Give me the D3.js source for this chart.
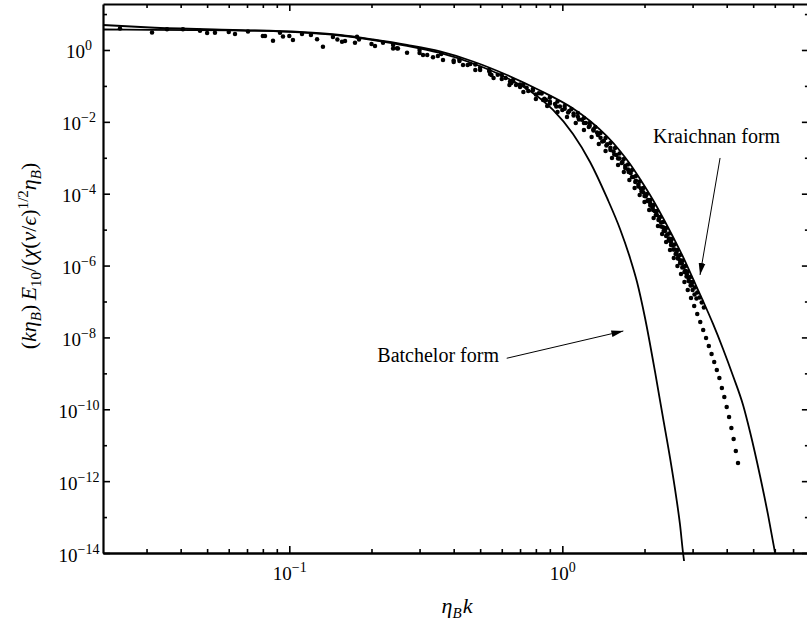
<!DOCTYPE html>
<html><head><meta charset="utf-8">
<script src="https://cdn.jsdelivr.net/npm/d3@7"></script>
<style>
body{margin:0;background:#fff}
svg text{font-family:"Liberation Serif","Times New Roman",serif;fill:#000}
</style>
</head><body>
<svg id="c" width="807" height="624"></svg>
<script>
// ---------- data ----------
const kraichnanK = [0.02078,0.03088,0.06219,0.1094,0.1534,0.2025,0.2699,0.3565,0.4709,0.6272,0.8285,1.0944,1.2635,1.4579,1.6268,1.7701,1.9255,2.1486,2.3381,2.5437,2.7679,3.0115,3.2765,3.5648,3.8785,4.2200,4.5914,4.8706,5.2989,5.6687,6.0142];
const kraichnanE = [4.964,4.229,3.603,3.170,2.615,1.960,1.378,0.9084,0.4786,0.2014,0.07462,0.02355,0.01057,3.915e-3,1.546e-3,6.72e-4,2.57e-4,6.69e-5,2.11e-5,6.25e-6,1.734e-6,4.23e-7,1.034e-7,2.37e-8,4.77e-9,8.46e-10,1.319e-10,2.34e-11,1.394e-12,1.146e-13,1.0e-14];

const batchelorK = [0.02078,0.03088,0.06219,0.1094,0.1534,0.2025,0.2699,0.3565,0.4709,0.6272,0.7615,0.9245,1.0944,1.2635,1.4579,1.6268,1.7701,1.8777,2.0088,2.1860,2.3381,2.4802,2.6089,2.6987,2.7679,2.7914];
const batchelorE = [3.720,3.650,3.534,3.109,2.532,1.898,1.309,0.825,0.4209,0.1663,0.0723,0.02139,4.60e-3,7.64e-4,7.61e-5,1.043e-5,1.627e-6,3.49e-7,3.48e-8,1.093e-9,5.74e-11,4.42e-12,3.87e-13,6.03e-14,1.0e-14,5.99e-15];

// measured spectra (several runs)
const runAK = [0.08,0.16,0.24,0.32,0.40,0.48,0.56,0.64,0.72,0.80,0.88,0.96,1.04,1.12,1.20,1.28,1.36,1.44,1.52,1.60,1.68,1.76,1.84,1.92,2.00,2.08,2.16,2.24,2.32,2.40,2.48,2.56,2.64,2.72,2.80,2.88,2.96,3.04,3.12,3.20,3.28,3.36,3.44,3.52,3.60,3.68,3.76,3.84,3.92,4.00,4.08,4.16,4.24,4.32,4.40];
const runAE = [2.45,1.78,1.10,0.726,0.463,0.278,0.166,0.106,0.0678,0.0433,0.0276,0.0188,0.0137,9.30e-3,5.94e-3,3.79e-3,2.42e-3,1.55e-3,9.87e-4,6.30e-4,4.02e-4,2.41e-4,1.44e-4,9.22e-5,5.89e-5,3.53e-5,2.11e-5,1.26e-5,7.57e-6,4.54e-6,2.72e-6,1.63e-6,9.74e-7,5.83e-7,3.49e-7,2.09e-7,1.25e-7,7.51e-8,4.50e-8,2.69e-8,1.61e-8,9.66e-9,5.79e-9,3.46e-9,2.07e-9,1.24e-9,7.44e-10,3.92e-10,2.20e-10,1.16e-10,6.11e-11,3.02e-11,1.49e-11,6.92e-12,3.21e-12];

const runBK = [0.06,0.12,0.18,0.24,0.30,0.36,0.42,0.48,0.54,0.60,0.66,0.72,0.78,0.84,0.90,0.96,1.02,1.08,1.14,1.20,1.26,1.32,1.38,1.44,1.50,1.56,1.62,1.68,1.74,1.80,1.86,1.92,1.98,2.04,2.10,2.16,2.22,2.28,2.34,2.40,2.46,2.52,2.58,2.64,2.70,2.76,2.82,2.88,2.94,3.00,3.06,3.12,3.18,3.24,3.30];
const runBE = [3.17,2.62,1.96,1.38,1.00,0.774,0.544,0.395,0.278,0.201,0.146,0.106,0.0822,0.0616,0.0477,0.0369,0.0276,0.0228,0.0177,0.0128,9.30e-3,7.20e-3,4.90e-3,3.56e-3,2.58e-3,1.87e-3,1.32e-3,9.26e-4,6.51e-4,4.57e-4,3.11e-4,2.19e-4,1.44e-4,9.83e-5,6.69e-5,4.86e-5,3.31e-5,2.25e-5,1.63e-5,1.11e-5,7.82e-6,5.50e-6,3.86e-6,2.72e-6,1.97e-6,1.39e-6,9.74e-7,6.85e-7,4.82e-7,3.49e-7,2.46e-7,1.78e-7,1.29e-7,9.40e-8,6.82e-8];

const runCK = [0.05,0.10,0.15,0.20,0.25,0.30,0.35,0.40,0.45,0.50,0.55,0.60,0.65,0.70,0.75,0.80,0.85,0.90,0.95,1.00,1.05,1.10,1.15,1.20,1.25,1.30,1.35,1.40,1.45,1.50,1.55,1.60,1.65,1.70,1.75,1.80,1.85,1.90,1.95,2.00,2.05,2.10,2.15,2.20,2.25,2.30,2.35,2.40,2.45,2.50,2.55,2.60,2.65,2.70,2.75,2.80,2.85,2.90,2.95,3.00,3.05,3.10];
const runCE = [2.97,2.45,1.96,1.47,1.10,0.825,0.681,0.510,0.382,0.278,0.201,0.156,0.121,0.0934,0.0723,0.0578,0.0406,0.0325,0.0268,0.0214,0.0182,0.0150,0.0116,9.30e-3,7.20e-3,5.75e-3,4.31e-3,2.84e-3,2.20e-3,1.65e-3,1.24e-3,9.56e-4,7.16e-4,5.20e-4,4.02e-4,2.92e-4,2.12e-4,1.59e-4,1.15e-4,8.65e-5,6.28e-5,4.70e-5,3.53e-5,2.56e-5,1.86e-5,1.23e-5,9.18e-6,6.66e-6,4.99e-6,3.74e-6,2.80e-6,2.10e-6,1.58e-6,1.18e-6,8.85e-7,6.63e-7,4.97e-7,3.73e-7,2.79e-7,2.09e-7,1.57e-7,1.21e-7];

const runDK = [0.02398,0.03142,0.03565,0.04078,0.04709,0.05342,0.06325,0.07058,0.08147,0.08716,0.09245,0.09482,0.1031,0.1113,0.1264,0.1328,0.1445,0.1560,0.1740,0.1770,0.2060,0.2204,0.2480,0.2699,0.3088,0.3360,0.3656,0.4328,0.5435,0.6767,0.6433,0.8716];
const runDE = [3.97,3.07,3.77,3.77,3.44,3.03,2.79,3.27,2.45,1.82,3.03,2.38,1.90,2.79,1.99,1.24,2.30,1.70,1.60,2.35,1.29,1.60,1.12,0.841,0.726,0.626,0.527,0.382,0.215,0.106,0.131,0.0406];

const runEK = [0.42,0.46,0.50,0.54,0.58,0.62,0.66,0.70,0.74,0.78,0.82,0.86,0.90,0.94,0.98,1.02,1.06,1.10,1.14,1.18,1.22,1.26,1.30,1.34,1.38,1.42,1.46,1.50,1.54,1.58,1.62,1.66,1.70,1.74,1.78,1.82,1.86,1.90,1.94,1.98,2.02,2.06,2.10,2.14,2.18,2.22,2.26,2.30,2.34,2.38,2.42,2.46,2.50,2.54,2.58,2.62,2.66,2.70,2.74,2.78,2.82,2.86,2.90,2.94,2.98];
const runEE = [0.497,0.405,0.320,0.254,0.204,0.167,0.1345,0.1089,0.0893,0.0742,0.0620,0.0441,0.0371,0.0314,0.0268,0.0231,0.0199,0.0171,0.01392,0.01142,9.36e-3,7.77e-3,6.25e-3,5.03e-3,3.58e-3,2.92e-3,2.39e-3,1.89e-3,1.50e-3,1.20e-3,9.62e-4,7.59e-4,5.99e-4,4.75e-4,3.75e-4,2.92e-4,2.28e-4,1.80e-4,1.40e-4,1.10e-4,8.54e-5,6.73e-5,5.31e-5,4.22e-5,3.28e-5,2.56e-5,2.01e-5,1.57e-5,1.17e-5,9.18e-6,7.19e-6,5.71e-6,4.54e-6,3.60e-6,2.82e-6,2.24e-6,1.78e-6,1.41e-6,1.14e-6,9.08e-7,7.16e-7,5.62e-7,4.49e-7,3.54e-7,2.81e-7];

// axes ticks
const xMajorTicks = [0.1, 1];
const xMajorExp = ["\u22121", "0"];
const xMinorTicks = [0.03,0.04,0.05,0.06,0.07,0.08,0.09,0.2,0.3,0.4,0.5,0.6,0.7,0.8,0.9,2,3,4,5,6,7];
const yMajorTicks = [1,1e-2,1e-4,1e-6,1e-8,1e-10,1e-12,1e-14];
const yMajorExp = ["0","\u22122","\u22124","\u22126","\u22128","\u221210","\u221212","\u221214"];
const yMinorTicks = [10,1e-1,1e-3,1e-5,1e-7,1e-9,1e-11,1e-13];

// annotations (data coordinates)
const annotations = [
  {text:"Kraichnan form", k:2.148, e:2.58e-3, anchor:"start", fromK:3.782, fromE:9.87e-4, toK:3.194, toE:5.47e-7},
  {text:"Batchelor form", k:0.586, e:2.07e-9, anchor:"end", fromK:0.6257, fromE:2.63e-9, toK:1.673, toE:1.51e-8}
];

// ---------- layout ----------
const P = {left:103, right:808.9, top:4, bottom:553};
const x = d3.scaleLog().domain([0.02078, 8]).range([P.left, P.right]);
const y = d3.scaleLog().domain([1e-14, 19.05]).range([P.bottom, P.top]);

const svg = d3.select("#c");
svg.append("rect").attr("width",807).attr("height",624).attr("fill","#fff");

const defs = svg.append("defs");
defs.append("marker").attr("id","ah").attr("viewBox","0 0 12 8")
  .attr("refX",12).attr("refY",4).attr("markerWidth",12).attr("markerHeight",8)
  .attr("markerUnits","userSpaceOnUse").attr("orient","auto")
  .append("path").attr("d","M0,0.6 L12,4 L0,7.4 Z").attr("fill","#000");

// ---------- curves ----------
const line = d3.line().x(d=>x(d[0])).y(d=>y(d[1])).curve(d3.curveMonotoneX);
svg.append("path").datum(d3.zip(kraichnanK,kraichnanE)).attr("d",line)
  .attr("fill","none").attr("stroke","#000").attr("stroke-width",1.8);
svg.append("path").datum(d3.zip(batchelorK,batchelorE)).attr("d",line)
  .attr("fill","none").attr("stroke","#000").attr("stroke-width",1.8);

// ---------- dots ----------
const runs = [[runAK,runAE],[runBK,runBE],[runCK,runCE],[runDK,runDE],[runEK,runEE]];
runs.forEach(([ks,es])=>{
  svg.append("g").selectAll("circle").data(d3.zip(ks,es)).join("circle")
    .attr("cx",d=>x(d[0])).attr("cy",d=>y(d[1])).attr("r",2.25).attr("fill","#000");
});

// ---------- axes ----------
function styleAxis(g, w){
  g.attr("font-size",null).attr("font-family",null);
  g.select(".domain").attr("stroke","#000").attr("stroke-width",w);
  g.selectAll(".tick line").attr("stroke","#000").attr("stroke-width",1.6);
}
// bottom
const gb = svg.append("g").attr("transform",`translate(0,${P.bottom})`);
gb.call(d3.axisBottom(x).tickValues(xMinorTicks).tickSize(-4).tickSizeOuter(0).tickFormat(""));
styleAxis(gb, 2.4);
const gbM = svg.append("g").attr("transform",`translate(0,${P.bottom})`);
gbM.call(d3.axisBottom(x).tickValues(xMajorTicks).tickSize(-7).tickSizeOuter(0).tickFormat(""));
styleAxis(gbM, 0); gbM.select(".domain").remove();
gbM.selectAll(".tick").each(function(d,i){
  const t = d3.select(this).append("text").attr("y",27).attr("text-anchor","middle").attr("font-size",19);
  t.append("tspan").text("10");
  t.append("tspan").attr("dy",-8).attr("font-size",14).text(xMajorExp[i]);
});
// top
const gt = svg.append("g").attr("transform",`translate(0,${P.top})`);
gt.call(d3.axisTop(x).tickValues(xMinorTicks).tickSize(-4).tickSizeOuter(0).tickFormat(""));
styleAxis(gt, 1.8);
const gtM = svg.append("g").attr("transform",`translate(0,${P.top})`);
gtM.call(d3.axisTop(x).tickValues(xMajorTicks).tickSize(-7).tickSizeOuter(0).tickFormat(""));
styleAxis(gtM, 0); gtM.select(".domain").remove();
// left
const gl = svg.append("g").attr("transform",`translate(${P.left},0)`);
gl.call(d3.axisLeft(y).tickValues(yMinorTicks).tickSize(-4).tickSizeOuter(0).tickFormat(""));
styleAxis(gl, 2.2);
const glM = svg.append("g").attr("transform",`translate(${P.left},0)`);
glM.call(d3.axisLeft(y).tickValues(yMajorTicks).tickSize(-7).tickSizeOuter(0).tickFormat(""));
styleAxis(glM, 0); glM.select(".domain").remove();
glM.selectAll(".tick").each(function(d,i){
  const t = d3.select(this).append("text").attr("x",-24).attr("y",8).attr("text-anchor","middle").attr("font-size",19);
  t.append("tspan").text("10");
  t.append("tspan").attr("dy",-8).attr("font-size",14).text(yMajorExp[i]);
});
// right
const gr = svg.append("g").attr("transform",`translate(${P.right},0)`);
gr.call(d3.axisRight(y).tickValues(yMinorTicks).tickSize(-4).tickSizeOuter(0).tickFormat(""));
styleAxis(gr, 2);
const grM = svg.append("g").attr("transform",`translate(${P.right},0)`);
grM.call(d3.axisRight(y).tickValues(yMajorTicks).tickSize(-7).tickSizeOuter(0).tickFormat(""));
styleAxis(grM, 0); grM.select(".domain").remove();

// ---------- axis titles ----------
const xt = svg.append("text").attr("x",457).attr("y",613).attr("text-anchor","middle")
  .attr("font-size",22).attr("font-style","italic");
xt.append("tspan").text("\u03B7");
xt.append("tspan").attr("dy",5).attr("font-size",15).text("B");
xt.append("tspan").attr("dy",-5).attr("dx",1).text("k");

const yt = svg.append("text").attr("transform","translate(36,256) rotate(-90)")
  .attr("text-anchor","middle").attr("font-size",22);
const parts = [
  ["(",0,null,false],["k\u03B7",0,null,true],["B",5,15,true],[")",-5,null,false],["\u2009",0,null,false],
  ["E",0,null,true],["10",5,15,false],["/(",-5,null,false],["\u03C7",0,null,true],["(",0,null,false],
  ["\u03BD",0,null,true],["/",0,null,false],["\u03F5",0,null,true],[")",0,null,false],
  ["1/2",-8,15,false],["\u03B7",8,null,true],["B",5,15,true],[")",-5,null,false]
];
parts.forEach(([s,dy,fs,it])=>{
  const ts = yt.append("tspan").text(s);
  if(dy) ts.attr("dy",dy);
  if(fs) ts.attr("font-size",fs);
  if(it) ts.attr("font-style","italic");
});

// ---------- annotations ----------
annotations.forEach(a=>{
  svg.append("text").attr("x",x(a.k)).attr("y",y(a.e)).attr("text-anchor",a.anchor)
    .attr("font-size",20).text(a.text);
  svg.append("line").attr("x1",x(a.fromK)).attr("y1",y(a.fromE)).attr("x2",x(a.toK)).attr("y2",y(a.toE))
    .attr("stroke","#000").attr("stroke-width",1).attr("marker-end","url(#ah)");
});
</script>
</body></html>
